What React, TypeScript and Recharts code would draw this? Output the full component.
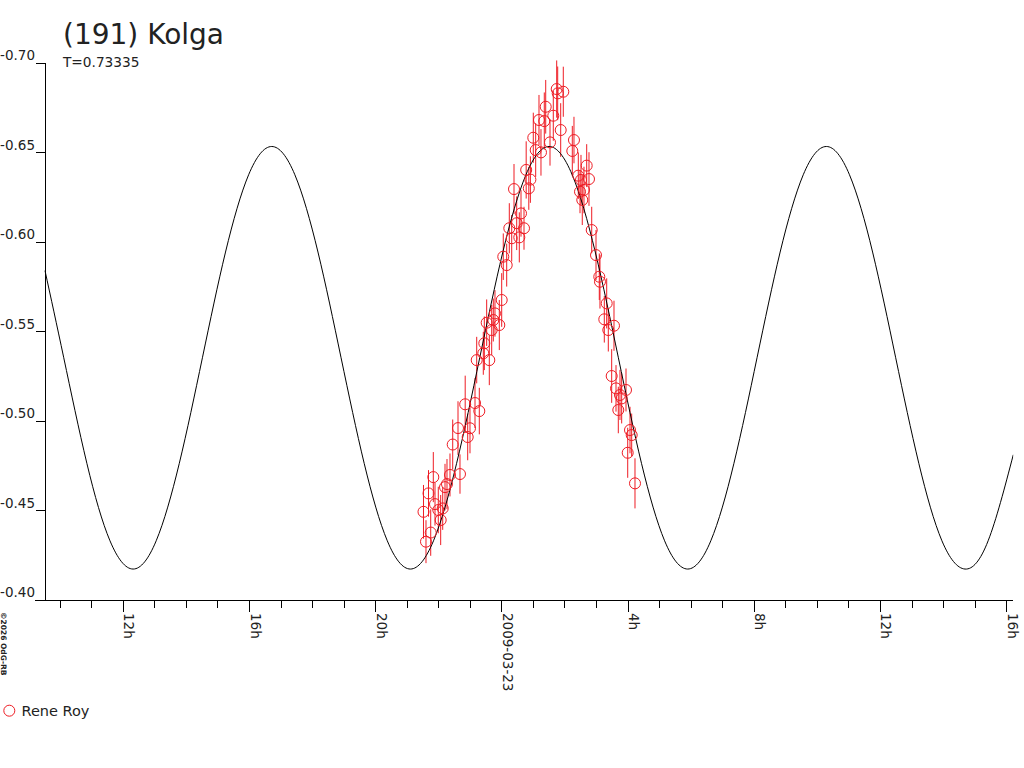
import React from 'react';
import { ComposedChart, Line, Scatter, ErrorBar, XAxis, YAxis, ReferenceLine } from 'recharts';

// ---- axis ticks ----
const X_TICKS = [10, 11, 12, 13, 14, 15, 16, 17, 18, 19, 20, 21, 22, 23, 24, 25, 26, 27, 28, 29, 30, 31, 32, 33, 34, 35, 36, 37, 38, 39, 40];
const X_MAJOR = [12, 16, 20, 24, 28, 32, 36, 40];
const X_LABELS = ['12h', '16h', '20h', '2009-03-23', '4h', '8h', '12h', '16h'];
const Y_TICKS = [-0.7, -0.65, -0.6, -0.55, -0.5, -0.45, -0.4];
const X_DOMAIN = [9.201, 40.21];
const Y_DOMAIN = [-0.7, -0.4];
const Y_AXIS_AT = 9.518;

// ---- fitted curve (hours since 2009-03-22 0h, magnitude) ----
const CURVE_H = [9.518, 10.1125, 10.845, 11.5775, 12.31, 13.0425, 13.775, 14.5075, 15.24, 15.9725, 16.705, 17.4375, 18.17, 18.9025, 19.635, 20.3675, 21.1, 21.8325, 22.565, 23.2975, 24.03, 24.7625, 25.495, 26.2275, 26.96, 27.6925, 28.425, 29.1575, 29.89, 30.6225, 31.355, 32.0875, 32.82, 33.5525, 34.285, 35.0175, 35.75, 36.4825, 37.215, 37.9475, 38.68, 39.4125, 40.21];
const CURVE_V = [-0.5841, -0.5354, -0.4764, -0.4331, -0.4173, -0.4331, -0.4764, -0.5354, -0.5945, -0.6377, -0.6535, -0.6377, -0.5945, -0.5354, -0.4764, -0.4331, -0.4173, -0.4331, -0.4764, -0.5354, -0.5945, -0.6377, -0.6535, -0.6377, -0.5945, -0.5354, -0.4764, -0.4331, -0.4173, -0.4331, -0.4764, -0.5354, -0.5945, -0.6377, -0.6535, -0.6377, -0.5945, -0.5354, -0.4764, -0.4331, -0.4173, -0.4331, -0.4812];

// ---- observations: Rene Roy ----
const OBS_H = [21.594, 21.744, 21.515, 21.674, 21.826, 21.88, 21.984, 22.06, 22.124, 22.197, 22.26, 22.355, 22.672, 22.441, 22.609, 22.837, 22.989, 22.916, 23.148, 23.284,
  23.202, 23.601, 23.411, 23.443, 23.518, 23.677, 23.728, 23.781, 23.918, 23.994, 24.044, 24.152, 24.235, 24.311, 24.469, 24.552, 24.606, 24.701, 24.384, 24.77, 24.903, 24.853,
  24.995, 25.071, 25.239, 25.176, 25.344, 25.389, 25.629, 25.525, 25.737, 25.769, 25.946, 25.864, 26.285, 26.232, 26.688, 26.422, 26.507, 26.761, 26.602, 26.476, 26.548, 26.847,
  26.983, 27.087, 27.109, 27.322, 27.246, 27.373, 27.553, 27.48, 27.617, 27.743, 27.934, 27.69, 27.797, 28.061, 28.114, 27.988, 28.219];
const OBS_V = [-0.4326, -0.4377, -0.4493, -0.4596, -0.4687, -0.4536, -0.4503, -0.4447, -0.4512, -0.4631, -0.4648, -0.4699, -0.4704, -0.4869, -0.4961, -0.5094, -0.496, -0.4911, -0.5101, -0.5056,
  -0.5341, -0.5341, -0.5379, -0.5435, -0.555, -0.5509, -0.5565, -0.5602, -0.5537, -0.5677, -0.5919, -0.5872, -0.6078, -0.6022, -0.6106, -0.6027, -0.6161, -0.6078, -0.6297, -0.6404, -0.635, -0.6301,
  -0.6584, -0.6515, -0.6502, -0.6683, -0.6677, -0.6757, -0.6707, -0.6558, -0.6856, -0.6832, -0.6841, -0.6627, -0.6571, -0.651, -0.6428, -0.6372, -0.6348, -0.6353, -0.6292, -0.6282, -0.6236, -0.6068,
  -0.5928, -0.5807, -0.5779, -0.5658, -0.5569, -0.5509, -0.5533, -0.5252, -0.5183, -0.5146, -0.5174, -0.5062, -0.5127, -0.495, -0.4922, -0.4823, -0.4652];
const OBS_E = [0.012, 0.013, 0.015, 0.013, 0.014, 0.012, 0.013, 0.014, 0.012, 0.013, 0.014, 0.012, 0.011, 0.014, 0.015, 0.016, 0.014, 0.013, 0.014, 0.013,
  0.013, 0.014, 0.012, 0.015, 0.013, 0.014, 0.012, 0.013, 0.014, 0.015, 0.013, 0.012, 0.014, 0.013, 0.015, 0.014, 0.013, 0.012, 0.014, 0.016, 0.013, 0.012,
  0.014, 0.015, 0.013, 0.014, 0.016, 0.015, 0.014, 0.013, 0.016, 0.015, 0.014, 0.015, 0.013, 0.014, 0.012, 0.013, 0.014, 0.015, 0.013, 0.012, 0.014, 0.013,
  0.014, 0.013, 0.015, 0.014, 0.013, 0.012, 0.014, 0.015, 0.013, 0.014, 0.012, 0.013, 0.014, 0.013, 0.012, 0.014, 0.014];

const curveData = CURVE_H.map((h, i) => ({ h, v: CURVE_V[i] }));
const obsData = OBS_H.map((h, i) => ({ h, v: OBS_V[i], e: OBS_E[i] }));

const RED = '#ee1c24';
const INK = '#222';
const FONT = '"DejaVu Sans", Verdana, sans-serif';

const XTick = (props: any) => {
  const { x, y, payload } = props;
  const idx = X_MAJOR.indexOf(payload.value);
  if (idx < 0) {
    return <line x1={x} x2={x} y1={y} y2={y + 8} stroke="#000" shapeRendering="crispEdges" />;
  }
  const tx = x + 1;
  const ty = y + 13;
  return (
    <g>
      <line x1={x} x2={x} y1={y} y2={y + 12} stroke="#000" shapeRendering="crispEdges" />
      <text x={tx} y={ty} transform={`rotate(90, ${tx}, ${ty})`} fontSize={13.5} fill={INK} fontFamily={FONT} textAnchor="start">
        {X_LABELS[idx]}
      </text>
    </g>
  );
};

const YTick = (props: any) => {
  const { x, y, payload } = props;
  return (
    <g>
      <line x1={x + 1} x2={x + 10} y1={y} y2={y} stroke="#000" shapeRendering="crispEdges" />
      <text x={x} y={y - 3} fontSize={13.5} fill={INK} fontFamily={FONT} textAnchor="end">
        {Number(payload.value).toFixed(2)}
      </text>
    </g>
  );
};

const Ring = (props: any) => {
  const { cx, cy } = props;
  if (cx == null || cy == null) return null;
  return <circle cx={cx} cy={cy} r={5.5} fill="none" stroke={RED} strokeWidth={1} />;
};

export default function App() {
  return (
    <div style={{ position: 'absolute', left: 0, top: 0, width: 1024, height: 768, background: '#fff' }}>
      <ComposedChart width={1024} height={768} margin={{ top: 63.3, right: 10.7, bottom: 68, left: 0 }}>
        <XAxis
          type="number"
          dataKey="h"
          domain={X_DOMAIN}
          ticks={X_TICKS}
          interval={0}
          allowDataOverflow
          tickSize={0}
          tickMargin={0}
          tickLine={false}
          axisLine={{ stroke: '#000', shapeRendering: 'crispEdges' }}
          tick={<XTick />}
          height={100}
        />
        <YAxis
          type="number"
          dataKey="v"
          domain={Y_DOMAIN}
          ticks={Y_TICKS}
          interval={0}
          reversed
          allowDataOverflow
          tickSize={0}
          tickMargin={0}
          tickLine={false}
          axisLine={false}
          tick={<YTick />}
          width={35}
        />
        <ReferenceLine x={Y_AXIS_AT} stroke="#000" shapeRendering="crispEdges" />
        <Scatter data={obsData} dataKey="v" shape={<Ring />} isAnimationActive={false}>
          <ErrorBar dataKey="e" direction="y" width={0} stroke={RED} strokeWidth={1} isAnimationActive={false} />
        </Scatter>
        <Line data={curveData} dataKey="v" type="natural" stroke="#000" strokeWidth={1} dot={false} activeDot={false} isAnimationActive={false} />
      </ComposedChart>
      <svg width={1024} height={768} style={{ position: 'absolute', left: 0, top: 0, pointerEvents: 'none' }}>
        <text x={63} y={44} fontSize={28} fill={INK} fontFamily={FONT}>(191) Kolga</text>
        <text x={63} y={66.5} fontSize={13.7} fill={INK} fontFamily={FONT}>T=0.73335</text>
        <text x={1} y={612} transform="rotate(90, 1, 612)" fontSize={7.5} fontWeight="bold" fill={INK} fontFamily={FONT}>©2026 OdG-RB</text>
        <circle cx={9.3} cy={710.7} r={5.5} fill="none" stroke={RED} strokeWidth={1} />
        <text x={21.5} y={715.5} fontSize={14.5} fill={INK} fontFamily={FONT}>Rene Roy</text>
      </svg>
    </div>
  );
}
